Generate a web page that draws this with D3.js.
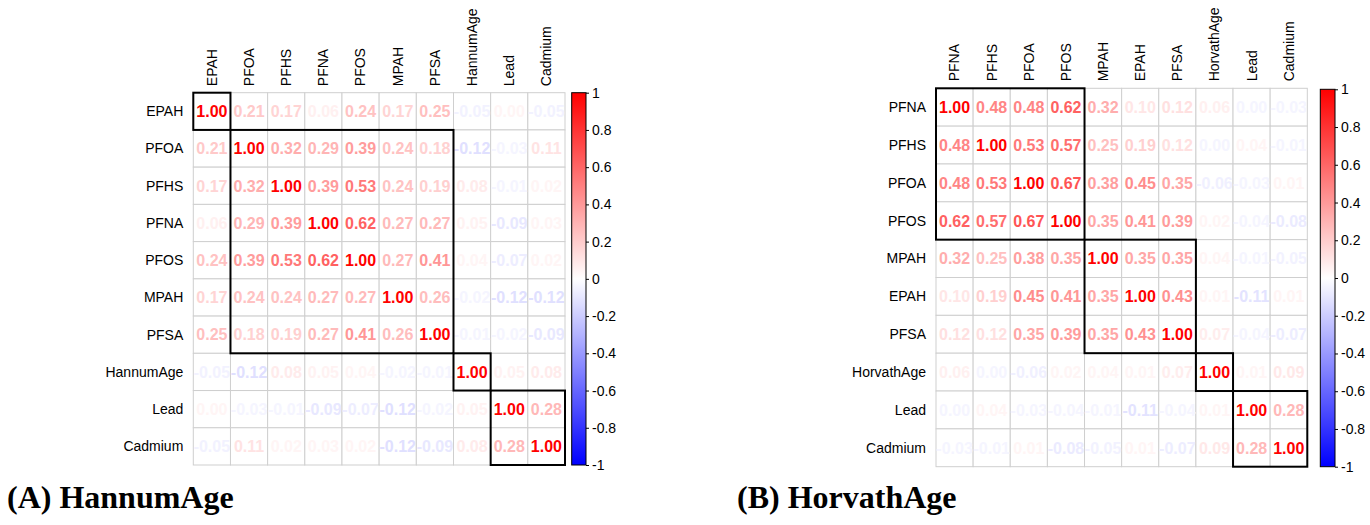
<!DOCTYPE html>
<html><head><meta charset="utf-8">
<script src="https://cdn.jsdelivr.net/npm/d3@7"></script>
<style>
html,body{margin:0;padding:0;background:#fff;}
svg{display:block;}
</style></head>
<body>
<svg id="chart" width="1370" height="525"></svg>
<script>
// ---------- DATA ----------
const labelsA = ["EPAH","PFOA","PFHS","PFNA","PFOS","MPAH","PFSA","HannumAge","Lead","Cadmium"];
const valuesA = [
  [1.00,0.21,0.17,0.06,0.24,0.17,0.25,-0.05,0.004,-0.05],
  [0.21,1.00,0.32,0.29,0.39,0.24,0.18,-0.12,-0.03,0.11],
  [0.17,0.32,1.00,0.39,0.53,0.24,0.19,0.08,-0.01,0.02],
  [0.06,0.29,0.39,1.00,0.62,0.27,0.27,0.05,-0.09,0.03],
  [0.24,0.39,0.53,0.62,1.00,0.27,0.41,0.04,-0.07,0.02],
  [0.17,0.24,0.24,0.27,0.27,1.00,0.26,-0.02,-0.12,-0.12],
  [0.25,0.18,0.19,0.27,0.41,0.26,1.00,-0.01,-0.02,-0.09],
  [-0.05,-0.12,0.08,0.05,0.04,-0.02,-0.01,1.00,0.05,0.08],
  [0.004,-0.03,-0.01,-0.09,-0.07,-0.12,-0.02,0.05,1.00,0.28],
  [-0.05,0.11,0.02,0.03,0.02,-0.12,-0.09,0.08,0.28,1.00]
];
const clustersA = [[0,0],[1,6],[7,7],[8,9]];
const titleA = ["(A)"," HannumAge"];

const labelsB = ["PFNA","PFHS","PFOA","PFOS","MPAH","EPAH","PFSA","HorvathAge","Lead","Cadmium"];
const valuesB = [
  [1.00,0.48,0.48,0.62,0.32,0.10,0.12,0.06,-0.004,-0.03],
  [0.48,1.00,0.53,0.57,0.25,0.19,0.12,-0.004,0.04,-0.01],
  [0.48,0.53,1.00,0.67,0.38,0.45,0.35,-0.06,-0.03,0.01],
  [0.62,0.57,0.67,1.00,0.35,0.41,0.39,0.02,-0.04,-0.08],
  [0.32,0.25,0.38,0.35,1.00,0.35,0.35,0.04,-0.01,-0.05],
  [0.10,0.19,0.45,0.41,0.35,1.00,0.43,0.01,-0.11,0.01],
  [0.12,0.12,0.35,0.39,0.35,0.43,1.00,0.07,-0.04,-0.07],
  [0.06,-0.004,-0.06,0.02,0.04,0.01,0.07,1.00,0.01,0.09],
  [-0.004,0.04,-0.03,-0.04,-0.01,-0.11,-0.04,0.01,1.00,0.28],
  [-0.03,-0.01,0.01,-0.08,-0.05,0.01,-0.07,0.09,0.28,1.00]
];
const clustersB = [[0,3],[4,6],[7,7],[8,9]];
const titleB = ["(B)"," HorvathAge"];

const legendTicks = [1,0.8,0.6,0.4,0.2,0,-0.2,-0.4,-0.6,-0.8,-1];

// ---------- DRAW ----------
const svg = d3.select("#chart");
const color = d3.scaleLinear().domain([-1,0,1]).range(["#0000FF","#FFFFFF","#FF0000"]);
// text colour: same palette, with a small floor so near-zero values stay faintly visible
const textColor = v => color(v < 0 ? Math.min(v, -0.04) : Math.max(v, 0.04));
const fmt = v => d3.format(".2f")(v).replace("−","-").replace("-0.00","0.00");
const sansFont = "'Liberation Sans', Arial, sans-serif";

// gradient for legends
const defs = svg.append("defs");
const grad = defs.append("linearGradient").attr("id","cbar")
  .attr("x1","0").attr("y1","1").attr("x2","0").attr("y2","0");
d3.range(0,1.0001,0.05).forEach(t=>{
  grad.append("stop").attr("offset",t).attr("stop-color",color(-1+2*t));
});

function drawPanel(labels, values, clusters, title, L) {
  const g = svg.append("g");
  const x = d3.scaleBand().domain(labels).range([L.x0, L.x0+L.w]);
  const y = d3.scaleBand().domain(labels).range([L.y0, L.y0+L.h]);

  const cells = [];
  values.forEach((row,i)=>row.forEach((v,j)=>cells.push({r:labels[i],c:labels[j],v})));

  // grid
  g.selectAll("rect.cell").data(cells).join("rect")
    .attr("x",d=>x(d.c)).attr("y",d=>y(d.r))
    .attr("width",x.bandwidth()).attr("height",y.bandwidth())
    .attr("fill","#fff").attr("stroke","#cfcfcf").attr("stroke-width",1);

  // numbers
  g.selectAll("text.num").data(cells).join("text")
    .attr("x",d=>x(d.c)+x.bandwidth()/2)
    .attr("y",d=>y(d.r)+y.bandwidth()/2)
    .attr("dy","0.36em")
    .attr("text-anchor","middle")
    .attr("font-family",sansFont).attr("font-weight","bold").attr("font-size",16)
    .attr("fill",d=>textColor(d.v))
    .text(d=>fmt(d.v));

  // cluster rectangles
  g.selectAll("rect.cl").data(clusters).join("rect")
    .attr("x",d=>x(labels[d[0]])).attr("y",d=>y(labels[d[0]]))
    .attr("width",d=>x(labels[d[1]])+x.bandwidth()-x(labels[d[0]]))
    .attr("height",d=>y(labels[d[1]])+y.bandwidth()-y(labels[d[0]]))
    .attr("fill","none").attr("stroke","#000").attr("stroke-width",2);

  // row labels
  g.selectAll("text.rl").data(labels).join("text")
    .attr("x",L.x0-10).attr("y",d=>y(d)+y.bandwidth()/2).attr("dy","0.35em")
    .attr("text-anchor","end").attr("font-family",sansFont).attr("font-size",14)
    .attr("fill","#000").text(d=>d);

  // column labels
  g.selectAll("text.cl").data(labels).join("text")
    .attr("transform",d=>`translate(${x(d)+x.bandwidth()/2},${L.y0-L.colGap}) rotate(-90)`)
    .attr("dy","0.35em")
    .attr("text-anchor","start").attr("font-family",sansFont).attr("font-size",14)
    .attr("fill","#000").text(d=>d);

  // legend
  const ly = d3.scaleLinear().domain([1,-1]).range([L.ly0, L.ly1]);
  g.append("rect").attr("x",L.lx).attr("y",L.ly0).attr("width",L.lw).attr("height",L.ly1-L.ly0)
    .attr("fill","url(#cbar)").attr("stroke","#000").attr("stroke-width",1);
  const axis = d3.axisRight(ly).tickValues(legendTicks).tickSize(3).tickPadding(3)
    .tickFormat(d=>String(d));
  const ag = g.append("g").attr("transform",`translate(${L.lx+L.lw},0)`).call(axis);
  ag.select(".domain").remove();
  ag.selectAll("text").attr("font-family",sansFont).attr("font-size",14).attr("fill","#000");
  ag.selectAll("line").attr("stroke","#000");

  // title
  const t = g.append("text").attr("x",L.tx).attr("y",L.ty)
    .attr("font-family","'Liberation Serif','Times New Roman',serif")
    .attr("font-weight","bold").attr("font-size",32).attr("fill","#000");
  t.append("tspan").text(title[0]);
  t.append("tspan").text(title[1]);
}

drawPanel(labelsA, valuesA, clustersA, titleA,
  {x0:193.3, y0:92.7, w:371.7, h:372.3, colGap:6.5,
   lx:571.7, lw:14.3, ly0:92.7, ly1:465, tx:7, ty:508});
drawPanel(labelsB, valuesB, clustersB, titleB,
  {x0:936, y0:88.3, w:371.3, h:378.4, colGap:7,
   lx:1320.3, lw:14.7, ly0:89.3, ly1:466.7, tx:737, ty:508});
</script>
</body></html>
